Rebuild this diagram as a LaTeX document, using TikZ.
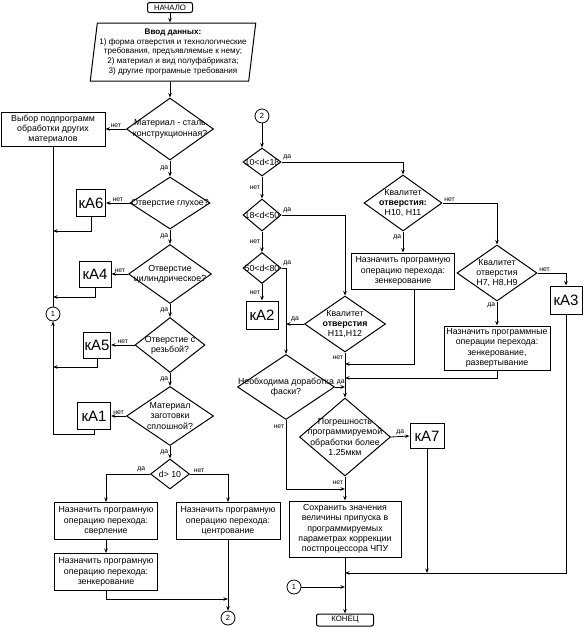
\documentclass[tikz,border=0pt]{standalone}
\usepackage{fontspec}
\setmainfont{Liberation Sans}
\usetikzlibrary{shapes.geometric,arrows.meta}

\begin{document}
\begin{tikzpicture}[x=1pt,y=-1pt,
    >={Stealth[length=4.5pt,width=3.5pt]},
    every node/.style={font=\fontsize{8.8}{10.3}\selectfont},
    box/.style={draw,line width=1pt,align=center,inner sep=1pt},
    cond/.style={draw,line width=1pt,diamond,align=center,inner sep=-40pt},
    datain/.style={draw,line width=1pt,trapezium,trapezium left angle=82,trapezium right angle=98,
        trapezium stretches body,align=center,inner sep=2pt,font=\fontsize{8.1}{9.8}\selectfont},
    kabox/.style={draw,line width=1pt,inner sep=1pt,font=\fontsize{15}{15}\selectfont},
    term/.style={draw,rounded corners=2pt,line width=1pt,inner sep=1pt,font=\fontsize{7.8}{8}\selectfont},
    conn/.style={draw,circle,inner sep=0pt,minimum size=14pt,line width=0.8pt,font=\fontsize{7.5}{8}\selectfont},
    lbl/.style={font=\fontsize{6.8}{7}\selectfont,inner sep=1.5pt},
    line/.style={line width=0.8pt}]
    \useasboundingbox (0,0) rectangle (583,627);
    \node[term, minimum width=45pt, minimum height=10pt] (start) at (170,7.5) {НАЧАЛО};
    \node[datain, minimum width=157pt, minimum height=58pt] (input) at (173,52) {\textbf{Ввод данных:}\\1) форма отверстия и технологические\\требования, предъявляемые к нему;\\2) материал и вид полуфабриката;\\3) другие програмные требования};
    \node[cond, minimum width=87pt, minimum height=62pt] (steel) at (170,129) {Материал - сталь\\конструкционная?};
    \node[box, minimum width=104pt, minimum height=34pt] (othermat) at (53,129) {Выбор подпрограмм\\обработки других\\материалов};
    \node[cond, minimum width=80pt, minimum height=52pt] (blind) at (170,203) {Отверстие глухое?};
    \node[kabox, minimum width=29pt, minimum height=27pt] (ka6) at (91,203) {кА6};
    \node[cond, minimum width=83pt, minimum height=59pt] (cyl) at (170,274) {Отверстие\\цилиндрическое?};
    \node[kabox, minimum width=32pt, minimum height=26pt] (ka4) at (95,274) {кА4};
    \node[conn] (one) at (53,314) {1};
    \node[cond, minimum width=70pt, minimum height=55pt] (thread) at (170,345) {Отверстие с\\резьбой?};
    \node[kabox, minimum width=27pt, minimum height=26pt] (ka5) at (97,345) {кА5};
    \node[cond, minimum width=87pt, minimum height=59pt] (solid) at (170,416) {Материал\\заготовки\\сплошной?};
    \node[kabox, minimum width=33pt, minimum height=27pt] (ka1) at (94,416) {кА1};
    \node[cond, minimum width=39pt, minimum height=30pt] (dia) at (170,474) {d> 10};
    \node[box, minimum width=103pt, minimum height=37pt] (drill) at (106,521) {Назначить програмную\\операцию перехода:\\сверление};
    \node[box, minimum width=103pt, minimum height=37pt] (sink) at (106,572) {Назначить програмную\\операцию перехода:\\зенкерование};
    \node[box, minimum width=104pt, minimum height=37pt] (centr) at (228,521) {Назначить програмную\\операцию перехода:\\центрование};
    \node[conn] (two) at (228,618) {2};
    \coordinate (j6) at (53,231);
    \coordinate (j4) at (53,297);
    \coordinate (j5) at (53,367);
    \coordinate (j1) at (53,434);
    \coordinate (j2) at (228,599);

    \node[conn] (twob) at (262,116) {2};
    \node[cond, minimum width=38pt, minimum height=28pt] (d1018) at (262,162) {10<d<18};
    \node[cond, minimum width=38pt, minimum height=32pt] (d1850) at (262,215) {18<d<50};
    \node[cond, minimum width=38pt, minimum height=31pt] (d5080) at (262,268) {50<d<80};
    \node[kabox, minimum width=32pt, minimum height=28pt] (ka2) at (262,315) {кА2};
    \node[cond, minimum width=78pt, minimum height=56pt] (q1011) at (403,203) {Квалитет\\\textbf{отверстия:}\\H10, H11};
    \node[box, minimum width=103pt, minimum height=36pt] (sinkb) at (403,271) {Назначить програмную\\операцию перехода:\\зенкерование};
    \node[cond, minimum width=80pt, minimum height=56pt] (q79) at (497,273) {Квалитет\\отверстия\\H7, H8,H9};
    \node[kabox, minimum width=32pt, minimum height=28pt] (ka3) at (566,300) {кА3};
    \node[box, minimum width=106pt, minimum height=44pt] (ream) at (497,348) {Назначить программные\\операции перехода:\\зенкерование,\\развертывание};
    \node[cond, minimum width=81pt, minimum height=56pt] (q1112) at (345,324) {Квалитет\\\textbf{отверстия}\\H11,H12};
    \node[cond, minimum width=97pt, minimum height=65pt] (chamfer) at (286,387) {Необходима доработка\\фаски?};
    \node[cond, minimum width=91pt, minimum height=78pt] (err) at (345,437) {Погрешность\\программируемой\\обработки более\\1.25мкм};
    \node[kabox, minimum width=34pt, minimum height=25pt] (ka7) at (427,436) {кА7};
    \node[box, minimum width=112pt, minimum height=56pt] (save) at (345,529) {Сохранить значения\\величины припуска в\\программируемых\\параметрах коррекции\\постпроцессора ЧПУ};
    \node[conn] (oneb) at (294,587) {1};
    \node[term, minimum width=57pt, minimum height=12pt] (stop) at (345,620) {КОНЕЦ};
    \coordinate (j7) at (286,324);
    \coordinate (j8) at (345,364);
    \coordinate (j9) at (345,378);
    \coordinate (j10) at (345,387);
    \coordinate (j11) at (345,489);
    \coordinate (j12) at (345,573);
    \coordinate (j13) at (345,587);

    \draw[line,->] (start.south) -- (start.south |- input.north);
    \draw[line,->] (input.south -| steel.north) -- (steel.north);
    \draw[line,->] (steel.west) -- node[lbl,above] {нет} (othermat.east);
    \draw[line,->] (steel.south) -- node[lbl,left,pos=0.5] {да} (blind.north);
    \draw[line,->] (blind.west) -- node[lbl,above] {нет} (ka6.east);
    \draw[line,->] (ka6.south) |- (j6);
    \draw[line,->] (blind.south) -- node[lbl,left,pos=0.5] {да} (cyl.north);
    \draw[line,->] (cyl.west) -- node[lbl,above] {нет} (ka4.east);
    \draw[line,->] (ka4.south) |- (j4);
    \draw[line] (othermat.south) -- (one.north);
    \draw[line,->] (cyl.south) -- node[lbl,left,pos=0.5] {да} (thread.north);
    \draw[line,->] (thread.west) -- node[lbl,above] {нет} (ka5.east);
    \draw[line,->] (ka5.south) |- (j5);
    \draw[line,->] (thread.south) -- node[lbl,left,pos=0.5] {да} (solid.north);
    \draw[line,->] (solid.west) -- node[lbl,above] {нет} (ka1.east);
    \draw[line,->] (ka1.south) |- (j1) -- (one.south);
    \draw[line,->] (solid.south) -- node[lbl,left,pos=0.5] {да} (dia.north);
    \draw[line,->] (dia.west) -| node[lbl,above,pos=0.1] {да} (drill.north);
    \draw[line,->] (dia.east) -| node[lbl,above,pos=0.12] {нет} (centr.north);
    \draw[line,->] (drill.south) -- (sink.north);
    \draw[line,->] (sink.south) |- (j2);
    \draw[line,->] (centr.south) -- (two.north);

    \draw[line,->] (twob.south) -- (d1018.north);
    \draw[line,->] (d1018.east) -| node[lbl,above right,pos=0] {да} (q1011.north);
    \draw[line,->] (d1018.south) -- node[lbl,left] {нет} (d1850.north);
    \draw[line,->] (d1850.east) -| node[lbl,above right,pos=0] {да} (q1112.north);
    \draw[line,->] (d1850.south) -- node[lbl,left] {нет} (d5080.north);
    \draw[line,->] (d5080.east) -| node[lbl,above right,pos=0] {да} (chamfer.north);
    \draw[line,->] (d5080.south) -- node[lbl,left] {нет} (ka2.north);
    \draw[line,->] (q1112.west) -- node[lbl,above] {да} (j7);
    \draw[line,->] (q1112.south) -- node[lbl,left,pos=0.12] {нет} (err.north);
    \draw[line,->] (q1011.south) -- node[lbl,left,pos=0.3] {да} (sinkb.north);
    \draw[line,->] ([xshift=11pt]sinkb.south) |- (j8);
    \draw[line,->] (q1011.east) -| node[lbl,above right,pos=0] {нет} (q79.north);
    \draw[line,->] (q79.east) -| node[lbl,above right,pos=0] {нет} (ka3.north);
    \draw[line,->] (q79.south) -- node[lbl,left,pos=0.15] {да} (ream.north);
    \draw[line,->] (ream.south) |- (j9);
    \draw[line,->] (chamfer.east) -- node[lbl,above right,pos=0] {да} (j10);
    \draw[line,->] (chamfer.south) |- node[lbl,left,pos=0.05] {нет} (j11);
    \draw[line,->] (err.east) -- node[lbl,above] {да} (ka7.west);
    \draw[line,->] (err.south) -- node[lbl,left,pos=0.24] {нет} (save.north);
    \draw[line,->] (save.south) -- (stop.north);
    \draw[line,->] (ka3.south) |- (j12);
    \draw[line,->] (ka7.south) -- (ka7.south |- j12);
    \draw[line,->] (oneb.east) -- (j13);
\end{tikzpicture}
\end{document}
